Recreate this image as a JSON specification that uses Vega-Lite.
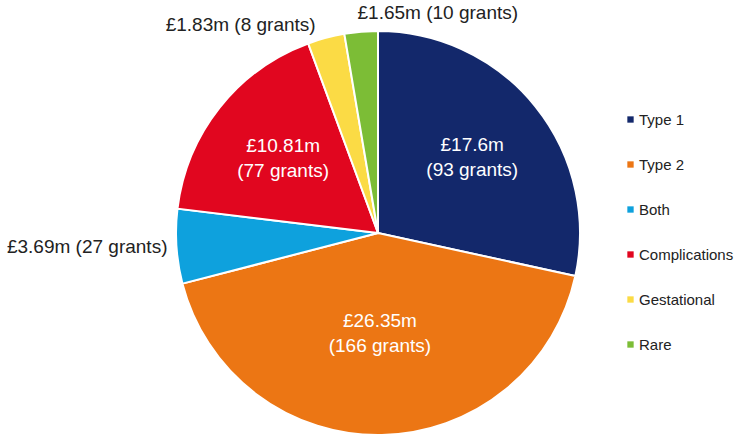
{
  "$schema": "https://vega.github.io/schema/vega-lite/v6.json",
  "width": 738,
  "height": 434,
  "padding": 0,
  "autosize": {"type": "none"},
  "background": "white",
  "config": {"view": {"stroke": null}, "font": "Liberation Sans"},
  "data": {"values": [
    {"category": "Type 1", "order": 1, "value": 17.6, "amount": "£17.6m", "grants": 93},
    {"category": "Type 2", "order": 2, "value": 26.35, "amount": "£26.35m", "grants": 166},
    {"category": "Both", "order": 3, "value": 3.69, "amount": "£3.69m", "grants": 27},
    {"category": "Complications", "order": 4, "value": 10.81, "amount": "£10.81m", "grants": 77},
    {"category": "Gestational", "order": 5, "value": 1.83, "amount": "£1.83m", "grants": 8},
    {"category": "Rare", "order": 6, "value": 1.65, "amount": "£1.65m", "grants": 10}
  ]},
  "transform": [
    {"stack": "value", "groupby": [], "sort": [{"field": "order", "order": "ascending"}], "as": ["v0", "v1"]},
    {"calculate": "(datum.v0 + datum.v1) / 2", "as": "mid"},
    {"calculate": "'(' + datum.grants + ' grants)'", "as": "gtext"},
    {"calculate": "[datum.amount, datum.gtext]", "as": "inner"},
    {"calculate": "datum.amount + ' ' + datum.gtext", "as": "outer"}
  ],
  "layer": [
    {
      "mark": {"type": "arc", "outerRadius": 202, "x": 378, "y": 233, "stroke": "white", "strokeWidth": 2},
      "encoding": {
        "theta": {"field": "v0", "type": "quantitative", "scale": {"domain": [0, 61.93], "nice": false, "zero": true}},
        "theta2": {"field": "v1"},
        "color": {
          "field": "category", "type": "nominal",
          "scale": {
            "domain": ["Type 1", "Type 2", "Both", "Complications", "Gestational", "Rare"],
            "range": ["#13286b", "#ec7614", "#0ea1dd", "#e1061f", "#fbdb45", "#7cbd36"]
          },
          "legend": {
            "title": null, "orient": "none", "legendX": 623, "legendY": 112,
            "symbolType": "square", "symbolSize": 40, "symbolStrokeWidth": 0,
            "labelFontSize": 15, "labelColor": "#222222", "labelFont": "Liberation Sans",
            "rowPadding": 29, "labelOffset": 1
          }
        }
      }
    },
    {
      "transform": [{"filter": "datum.order == 1 || datum.order == 4"}],
      "mark": {"type": "text", "radius": 121, "x": 378, "y": 233, "dy": -12, "fontSize": 19, "color": "white", "align": "center", "baseline": "middle", "lineHeight": 25},
      "encoding": {"theta": {"field": "mid", "type": "quantitative"}, "text": {"field": "inner"}}
    },
    {
      "transform": [{"filter": "datum.order == 2"}],
      "mark": {"type": "text", "radius": 100, "x": 378, "y": 233, "dy": -12, "fontSize": 19, "color": "white", "align": "center", "baseline": "middle", "lineHeight": 25},
      "encoding": {"theta": {"field": "mid", "type": "quantitative"}, "text": {"field": "inner"}}
    },
    {
      "transform": [{"filter": "datum.order == 3"}],
      "mark": {"type": "text", "radius": 211, "x": 378, "y": 233, "fontSize": 19, "color": "#222222", "align": "right", "baseline": "middle"},
      "encoding": {"theta": {"field": "mid", "type": "quantitative"}, "text": {"field": "outer"}}
    },
    {
      "transform": [{"filter": "datum.order == 5"}],
      "mark": {"type": "text", "radius": 215, "x": 378, "y": 233, "dx": -7, "fontSize": 19, "color": "#222222", "align": "right", "baseline": "middle"},
      "encoding": {"theta": {"field": "mid", "type": "quantitative"}, "text": {"field": "outer"}}
    },
    {
      "transform": [{"filter": "datum.order == 6"}],
      "mark": {"type": "text", "radius": 221, "x": 378, "y": 233, "dx": -2, "fontSize": 19, "color": "#222222", "align": "left", "baseline": "middle"},
      "encoding": {"theta": {"field": "mid", "type": "quantitative"}, "text": {"field": "outer"}}
    }
  ]
}
